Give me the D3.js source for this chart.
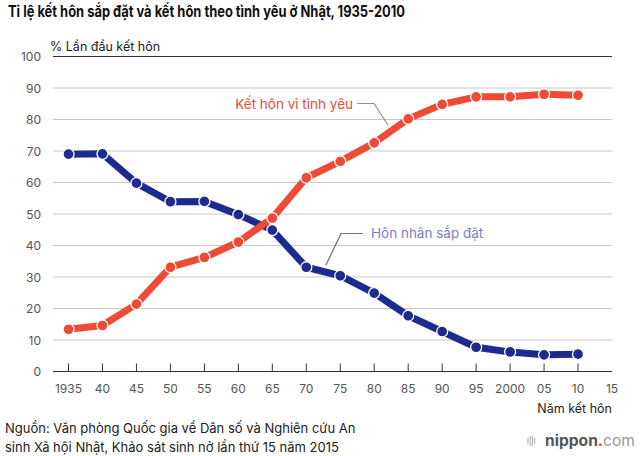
<!DOCTYPE html>
<html><head><meta charset="utf-8">
<script src="https://cdn.jsdelivr.net/npm/d3@7"></script>
<style>body{margin:0;background:#fff}svg{display:block}</style>
</head><body>
<script>
const years = [1935,1940,1945,1950,1955,1960,1965,1970,1975,1980,1985,1990,1995,2000,2005,2010];
const arranged = [69.0,69.1,59.8,53.9,54.0,49.8,44.9,33.1,30.4,24.9,17.7,12.7,7.7,6.2,5.3,5.5];
const love = [13.4,14.6,21.4,33.1,36.2,41.1,48.7,61.5,66.7,72.6,80.2,84.8,87.2,87.2,88.0,87.7];
const xTickYears = [1935,1940,1945,1950,1955,1960,1965,1970,1975,1980,1985,1990,1995,2000,2005,2010,2015];
const xTickLabels = ["1935","40","45","50","55","60","65","70","75","80","85","90","95","2000","05","10","15"];
const yTicks = [0,10,20,30,40,50,60,70,80,90,100];
const title = "Tỉ lệ kết hôn sắp đặt và kết hôn theo tình yêu ở Nhật, 1935-2010";
const yTitle = "% Lần đầu kết hôn";
const xTitle = "Năm kết hôn";
const loveLabel = "Kết hôn vì tình yêu";
const arrLabel = "Hôn nhân sắp đặt";
const source = ["Nguồn: Văn phòng Quốc gia về Dân số và Nghiên cứu An","sinh Xã hội Nhật, Khảo sát sinh nở lần thứ 15 năm 2015"];

const W=640,H=456;
const svg=d3.select("body").append("svg").attr("width",W).attr("height",H);
const font="Inter, 'Noto Sans', sans-serif";
const x=d3.scaleLinear().domain([1935,2015]).range([68.5,612]);
const y=d3.scaleLinear().domain([0,100]).range([371.5,56.5]);
const gx0=53, gx1=612;

svg.append("text").attr("x",8).attr("y",17).attr("font-family",font).attr("font-weight",700)
  .attr("font-size",16).attr("fill","#111")
  .attr("textLength",397).attr("lengthAdjust","spacingAndGlyphs").text(title);

// grid
svg.append("g").selectAll("line").data(yTicks).join("line")
  .attr("x1",gx0).attr("x2",gx1).attr("y1",d=>y(d)).attr("y2",d=>y(d))
  .attr("stroke",d=>(d===0||d===100)?"#333":"#c8c8c8").attr("stroke-width",1);

// y labels
svg.append("g").selectAll("text").data(yTicks).join("text")
  .attr("x",41).attr("y",d=>y(d)+4.5).attr("text-anchor","end")
  .attr("font-family",font).attr("font-size",12).attr("fill","#555").text(d=>d);
svg.append("text").attr("x",50).attr("y",51).attr("font-family",font).attr("font-size",12.5)
  .attr("fill","#222").text(yTitle);

// x ticks
svg.append("g").selectAll("line").data(years).join("line")
  .attr("x1",d=>x(d)).attr("x2",d=>x(d)).attr("y1",y(0)).attr("y2",y(0)-8)
  .attr("stroke","#333").attr("stroke-width",1);
svg.append("g").selectAll("text").data(xTickYears).join("text")
  .attr("x",d=>x(d)).attr("y",393).attr("text-anchor","middle")
  .attr("font-family",font).attr("font-size",12).attr("fill","#555")
  .text((d,i)=>xTickLabels[i]);
svg.append("text").attr("x",612).attr("y",413).attr("text-anchor","end")
  .attr("font-family",font).attr("font-size",12.5).attr("fill","#222").text(xTitle);

// leader lines
svg.append("path").attr("d","M357,103.5 L374,103.5 L388,125").attr("fill","none").attr("stroke","#a08a88").attr("stroke-width",1.2);
svg.append("path").attr("d","M363,233.5 L341,233.5 L326,265").attr("fill","none").attr("stroke","#6a6f80").attr("stroke-width",1.2);
svg.append("text").attr("x",353).attr("y",109).attr("text-anchor","end").attr("font-family",font)
  .attr("font-size",13.5).attr("fill","#ee4a3a").text(loveLabel);
svg.append("text").attr("x",371).attr("y",238).attr("font-family",font)
  .attr("font-size",13.5).attr("fill","#7a80c4").text(arrLabel);

const line=d3.line().x(d=>x(d[0])).y(d=>y(d[1]));
function series(vals,color){
  const data=years.map((yr,i)=>[yr,vals[i]]);
  svg.append("path").datum(data).attr("d",line).attr("fill","none").attr("stroke",color)
    .attr("stroke-width",7).attr("stroke-linejoin","round");
  svg.append("g").selectAll("circle").data(data).join("circle")
    .attr("cx",d=>x(d[0])).attr("cy",d=>y(d[1])).attr("r",5.5)
    .attr("fill",color).attr("stroke","#fff").attr("stroke-width",1.3);
}
series(arranged,"#1e2b8e");
series(love,"#ef4a35");

// source
svg.append("g").selectAll("text").data(source).join("text")
  .attr("x",5).attr("y",(d,i)=>433+i*19).attr("font-family",font).attr("font-size",13)
  .attr("fill","#222").text(d=>d);

// logo
const lg=svg.append("g");
[0,1,2,3].forEach(i=>{
  const h=[6,10,10,6][i];
  lg.append("rect").attr("x",527.5+i*2.2).attr("y",441-h/2).attr("width",1).attr("height",h).attr("fill","#aaa");
});
const lt=lg.append("text").attr("x",545).attr("y",446).attr("font-family",font).attr("font-size",15.5)
  .attr("textLength",90).attr("lengthAdjust","spacingAndGlyphs");
lt.append("tspan").attr("font-weight",700).attr("fill","#555").text("nippon");
lt.append("tspan").attr("font-weight",700).attr("fill","#e53a2f").text(".");
lt.append("tspan").attr("font-weight",400).attr("fill","#999").text("com");
</script>
</body></html>
